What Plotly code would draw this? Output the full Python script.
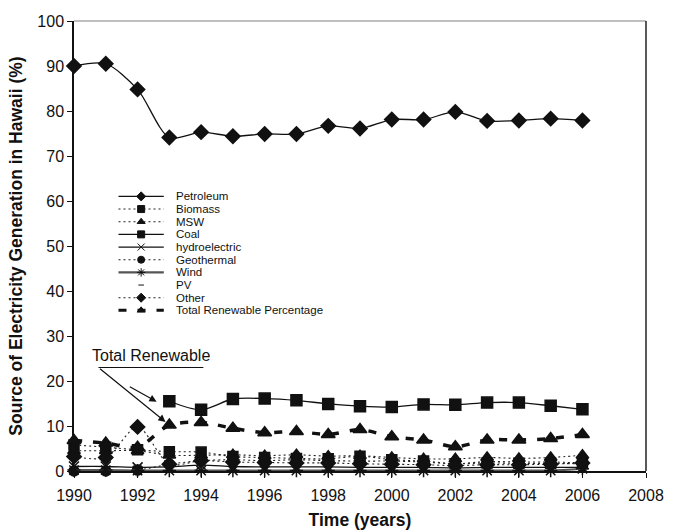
import plotly.graph_objects as go

# Hawaii electricity generation by source, share of total (%)
years = list(range(1990, 2007))

petroleum = [90.0, 90.5, 84.8, 74.1, 75.3, 74.4, 74.9, 74.9, 76.7, 76.1, 78.1, 78.1, 79.8, 77.8, 77.9, 78.3, 77.9]
biomass = [5.8, 5.3, 4.7, 4.3, 4.2, 3.2, 3.0, 2.8, 2.7, 3.3, 2.5, 2.2, 1.6, 1.8, 1.7, 1.7, 1.6]
msw = [4.5, 4.5, 4.5, 3.5, 3.5, 3.6, 3.4, 3.6, 3.3, 3.4, 3.0, 2.7, 2.7, 3.0, 2.8, 3.0, 3.5]
coal = [None, None, None, 15.5, 13.6, 16.0, 16.1, 15.7, 14.9, 14.4, 14.2, 14.8, 14.7, 15.2, 15.2, 14.5, 13.7]
hydroelectric = [1.0, 1.0, 0.8, 0.9, 1.3, 1.0, 0.9, 0.9, 0.9, 0.8, 0.8, 0.8, 0.7, 0.8, 0.8, 0.8, 0.8]
geothermal = [0.0, 0.0, 0.2, 1.5, 2.3, 2.5, 2.3, 2.5, 2.3, 2.2, 2.2, 2.0, 1.6, 2.1, 2.0, 2.0, 1.8]
wind = [0.2, 0.2, 0.1, 0.1, 0.1, 0.1, 0.1, 0.1, 0.1, 0.1, 0.1, 0.1, 0.1, 0.1, 0.1, 0.1, 0.5]
pv = [0.0] * 17
other = [3.2, 3.0, 9.8, 1.5, 2.3, 2.0, 1.9, 1.8, 1.8, 1.6, 1.5, 1.4, 1.2, 1.4, 1.4, 1.5, 1.8]
total_renewable = [6.8, 6.2, 5.3, 10.2, 10.8, 9.5, 8.5, 8.8, 8.1, 9.2, 7.6, 6.9, 5.4, 6.9, 6.9, 7.2, 8.1]

x_ticks = list(range(1990, 2009, 2))
y_ticks = list(range(0, 101, 10))

FONT = "Liberation Sans, Arial, sans-serif"
DOT = "2px,3px"

# name, values, line dash, line width, line colour, marker symbol, marker size, draw line
series = [
    ("Petroleum", petroleum, "solid", 1.3, "#111", "diamond", 11, True),
    ("Biomass", biomass, DOT, 1.1, "#222", "square", 10, True),
    ("MSW", msw, DOT, 1.1, "#222", "triangle-up", 11, True),
    ("Coal", coal, "solid", 1.3, "#111", "square", 11, True),
    ("hydroelectric", hydroelectric, "solid", 1.3, "#111", "x-thin-open", 10, True),
    ("Geothermal", geothermal, DOT, 1.1, "#222", "circle", 10, True),
    ("Wind", wind, "solid", 2.2, "#555", "asterisk-open", 11, True),
    ("PV", pv, "solid", 1, "#111", "line-ew-open", 5, False),
    ("Other", other, DOT, 1.1, "#222", "diamond", 11, True),
    ("Total Renewable Percentage", total_renewable, "8px,11px", 3.5, "#111", "triangle-up", 12, True),
]

fig = go.Figure()

for name, vals, dash, lw, col, sym, msz, has_line in series:
    fig.add_trace(go.Scatter(
        x=years, y=vals, name=name,
        mode="lines+markers" if has_line else "markers",
        line=dict(color=col, width=lw, dash=dash, shape="spline", smoothing=0.8),
        marker=dict(symbol=sym, size=msz, color="#111",
                    line=dict(color="#111", width=1.5)),
        cliponaxis=False, showlegend=False,
    ))

# Key drawn on a pixel-like overlay axis so rows can sit close together
LEG_TOP = 196.7
LEG_STEP = 12.65
LEG_X0, LEG_X1, LEG_TXT = 118.5, 163.8, 174.6
for i, (name, vals, dash, lw, col, sym, msz, has_line) in enumerate(series):
    yy = LEG_TOP + LEG_STEP * i
    if has_line:
        fig.add_trace(go.Scatter(
            x=[LEG_X0, LEG_X1], y=[yy, yy], mode="lines", xaxis="x2", yaxis="y2",
            line=dict(color=col, width=lw if lw < 3 else 3, dash=dash),
            showlegend=False, hoverinfo="skip",
        ))
    fig.add_trace(go.Scatter(
        x=[(LEG_X0 + LEG_X1) / 2], y=[yy], mode="markers", xaxis="x2", yaxis="y2",
        marker=dict(symbol=sym, size=7 if msz > 6 else 4, color="#111",
                    line=dict(color="#111", width=1)),
        showlegend=False, hoverinfo="skip",
    ))
    fig.add_annotation(x=LEG_TXT, y=yy, xref="x2", yref="y2", text=name,
                       showarrow=False, xanchor="left", yanchor="middle",
                       borderpad=0,
                       font=dict(family=FONT, size=11.5, color="#111"))

# "Total Renewable" callout
fig.add_annotation(x=1992.42, y=25.7, text="Total Renewable", showarrow=False,
                   xanchor="center", yanchor="middle",
                   font=dict(family=FONT, size=16, color="#111"))
fig.add_shape(type="line", x0=1990.77, x1=1994.07, y0=23.0, y1=23.0,
              line=dict(color="#111", width=1.2))
fig.add_annotation(x=1992.88, y=10.9, ax=1990.77, ay=23.0, axref="x", ayref="y",
                   text="", showarrow=True, arrowhead=2, arrowsize=1.2,
                   arrowwidth=1.2, arrowcolor="#111")
fig.add_annotation(x=1992.6, y=15.4, ax=1991.71, ay=18.9, axref="x", ayref="y",
                   text="", showarrow=True, arrowhead=2, arrowsize=1.2,
                   arrowwidth=1.2, arrowcolor="#111")

# Frame: light top edge, dark right edge
fig.add_shape(type="line", xref="paper", yref="paper", x0=0, x1=1, y0=1, y1=1,
              line=dict(color="#aaa", width=1.5))
fig.add_shape(type="line", xref="paper", yref="paper", x0=1, x1=1, y0=0, y1=1,
              line=dict(color="#222", width=1.5))

fig.update_layout(
    width=673, height=530,
    margin=dict(l=74, r=27, t=21, b=59),
    paper_bgcolor="white", plot_bgcolor="white",
    font=dict(family=FONT, color="#111"),
    xaxis=dict(range=[1990, 2008], tickvals=x_ticks, ticks="outside", ticklen=5,
               tickcolor="#111", showline=True, linecolor="#111", linewidth=1.5,
               showgrid=False, zeroline=False, automargin=False,
               ticklabelstandoff=4,
               tickfont=dict(family=FONT, size=16, color="#111"),
               title=dict(text="<b>Time (years)</b>", standoff=16,
                          font=dict(family=FONT, size=17.5, color="#111"))),
    yaxis=dict(range=[0, 100], tickvals=y_ticks, ticks="outside", ticklen=5,
               tickcolor="#111", showline=True, linecolor="#111", linewidth=1.5,
               showgrid=False, zeroline=False, automargin=False,
               tickfont=dict(family=FONT, size=16, color="#111"),
               title=dict(text="<b>Source of Electricity Generation in Hawaii (%)</b>",
                          standoff=10,
                          font=dict(family=FONT, size=17.5, color="#111"))),
    xaxis2=dict(domain=[0, 1], range=[74, 646], anchor="y2", overlaying="x",
                visible=False, fixedrange=True),
    yaxis2=dict(domain=[0, 1], range=[471, 21.5], anchor="x2", overlaying="y",
                visible=False, fixedrange=True),
    showlegend=False,
)

fig.write_html("out.html")
